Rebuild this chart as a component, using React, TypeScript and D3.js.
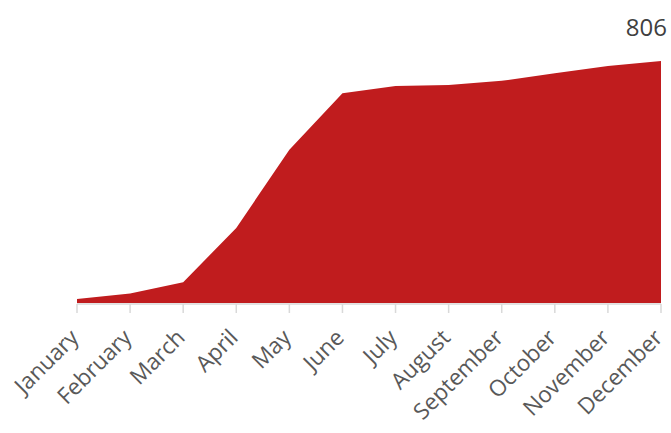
import React from "react";
import * as d3 from "d3";

const months = ["January","February","March","April","May","June","July","August","September","October","November","December"];
const values = [13, 32, 69, 250, 510, 699, 723, 726, 740, 765, 789, 806];
const lastLabel = "806";

export default function App() {
  const W = 671, H = 433;
  const x = d3.scalePoint<string>().domain(months).range([77, 661]);
  const y = d3.scaleLinear().domain([0, 806]).range([303, 61]);
  const area = d3.area<number>()
    .x((_, i) => x(months[i])!)
    .y0(y(0))
    .y1((d) => y(d))
    .curve(d3.curveLinear);
  const font = "'Open Sans', sans-serif";
  return (
    <svg width={W} height={H} style={{ position: "absolute", left: 0, top: 0 }}>
      <path d={area(values)!} fill="#c01c1e" />
      <line x1={77} x2={661} y1={304} y2={304} stroke="#d9d9d9" strokeWidth={1.5} />
      {months.map((m) => (
        <g key={m}>
          <line x1={x(m)} x2={x(m)} y1={304} y2={313} stroke="#d9d9d9" strokeWidth={1.5} />
          <text
            transform={`translate(${x(m)! + 3},${339}) rotate(-45)`}
            textAnchor="end"
            fontFamily={font}
            fontSize={22.5}
            fill="#595959"
          >{m}</text>
        </g>
      ))}
      <text x={667} y={36} textAnchor="end" fontFamily={font} fontSize={24} fill="#404040">{lastLabel}</text>
    </svg>
  );
}
